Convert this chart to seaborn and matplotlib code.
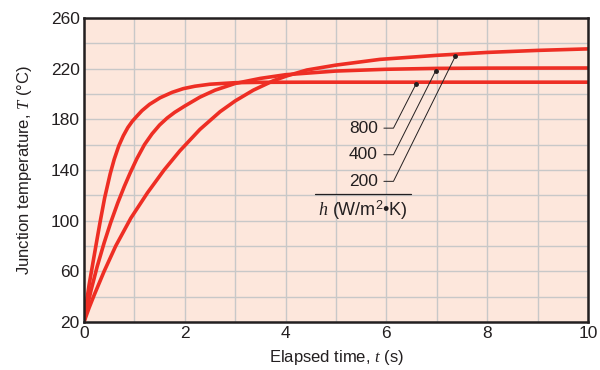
import numpy as np
import pandas as pd
import seaborn as sns
import matplotlib.pyplot as plt
from matplotlib.ticker import MultipleLocator, FixedLocator

# curves, (t, T) pairs per h value
t_800 = [0, 0.05, 0.1, 0.17, 0.24, 0.32, 0.41, 0.52, 0.6, 0.69, 0.78, 0.87, 0.96, 1.05, 1.15, 1.3,
         1.51, 1.75, 1.97, 2.2, 2.5, 3.0, 3.5, 4.5, 6, 8, 10]
T_800 = [20, 35.5, 49, 65, 81, 99, 118, 137, 148.5, 159, 167, 173.5, 178.5, 182.5, 186.8, 191.8,
         197, 201.3, 204.2, 206.1, 207.7, 208.9, 209.2, 209.3, 209.3, 209.3, 209.3]

t_400 = [0, 0.07, 0.14, 0.26, 0.40, 0.53, 0.67, 0.8, 0.92, 1.05, 1.2, 1.35, 1.5, 1.65, 1.8, 2.0,
         2.3, 2.6, 3.0, 3.5, 4.0, 5.0, 6.0, 7, 8, 10]
T_400 = [20, 33, 45, 63.5, 82.5, 98.5, 114, 127, 138, 149, 160, 168.5, 175.5, 181, 185.5, 190.5,
         197.5, 203, 208.3, 212.3, 215.2, 218.1, 219.5, 220.2, 220.4, 220.5]

t_200 = [0, 0.1, 0.2, 0.4, 0.63, 0.93, 1.26, 1.59, 1.9, 2.3, 2.7, 3.0, 3.36, 3.76, 4.02, 4.42,
         5.0, 5.87, 7.0, 8, 9, 10]
T_200 = [20, 31, 41, 60, 80, 102, 122, 140, 155, 172, 186, 194.5, 203, 210.5, 214.2, 218.9,
         222.8, 227.3, 230.5, 232.8, 234.4, 235.6]

h_labels = ['800', '400', '200']
# where the leader lines touch each curve
dot_t = [6.59, 6.98, 7.37]
dot_T = [208, 218.5, 230]
# text rows for the labels
label_T = [173, 152, 131]

xticks = [0, 2, 4, 6, 8, 10]
yticks = [20, 60, 100, 140, 180, 220, 260]

red = '#ee2e24'
bg = '#fde7dc'
ink = '#231f20'

sns.set_theme(style='whitegrid')
plt.rcParams['font.family'] = ['Liberation Sans', 'DejaVu Sans']
plt.rcParams['mathtext.fontset'] = 'custom'
plt.rcParams['mathtext.it'] = 'Liberation Serif:italic'
plt.rcParams['mathtext.rm'] = 'Liberation Sans'

df = pd.concat([
    pd.DataFrame({'t': t_800, 'T': T_800, 'h': '800'}),
    pd.DataFrame({'t': t_400, 'T': T_400, 'h': '400'}),
    pd.DataFrame({'t': t_200, 'T': T_200, 'h': '200'}),
], ignore_index=True)

fig = plt.figure(figsize=(6, 3.7), dpi=100)
ax = fig.add_axes([0.14, 0.13, 0.84, 0.8214])
ax.set_facecolor(bg)

sns.lineplot(data=df, x='t', y='T', hue='h', palette=[red] * 3,
             estimator=None, sort=False, linewidth=2.6, legend=False, ax=ax)
for ln in ax.lines:
    ln.set_solid_joinstyle('round')

ax.set_xlim(0, 10)
ax.set_ylim(20, 260)
ax.xaxis.set_major_locator(FixedLocator(xticks))
ax.xaxis.set_minor_locator(MultipleLocator(1))
ax.yaxis.set_major_locator(FixedLocator(yticks))
ax.yaxis.set_minor_locator(MultipleLocator(20))
ax.grid(which='both', color='#c8c8c8', linewidth=1.0)
ax.set_axisbelow(True)
ax.tick_params(which='both', length=0, labelsize=12.5, colors=ink, pad=3)
for s in ax.spines.values():
    s.set_color(ink)
    s.set_linewidth(1.8)

ax.set_xlabel('Elapsed time, $t$ (s)', fontsize=12, color=ink, labelpad=5)
ax.set_ylabel('Junction temperature, $T$ (°C)', fontsize=12, color=ink, labelpad=12)

# labels with leader lines
for lab, dt, dT, lT in zip(h_labels, dot_t, dot_T, label_T):
    ax.text(5.83, lT, lab, ha='right', va='center', fontsize=12.5, color=ink)
    ax.plot([5.95, 6.14, dt], [lT, lT, dT], color=ink, linewidth=0.7)
    ax.plot([dt], [dT], 'o', color=ink, markersize=2.5)

ax.plot([4.58, 6.48], [121, 121], color=ink, linewidth=0.9)
ax.text(5.53, 108, '$h$ (W/m$^2$•K)', ha='center', va='center', fontsize=13, color=ink)

fig.savefig('out.png', dpi=100)
